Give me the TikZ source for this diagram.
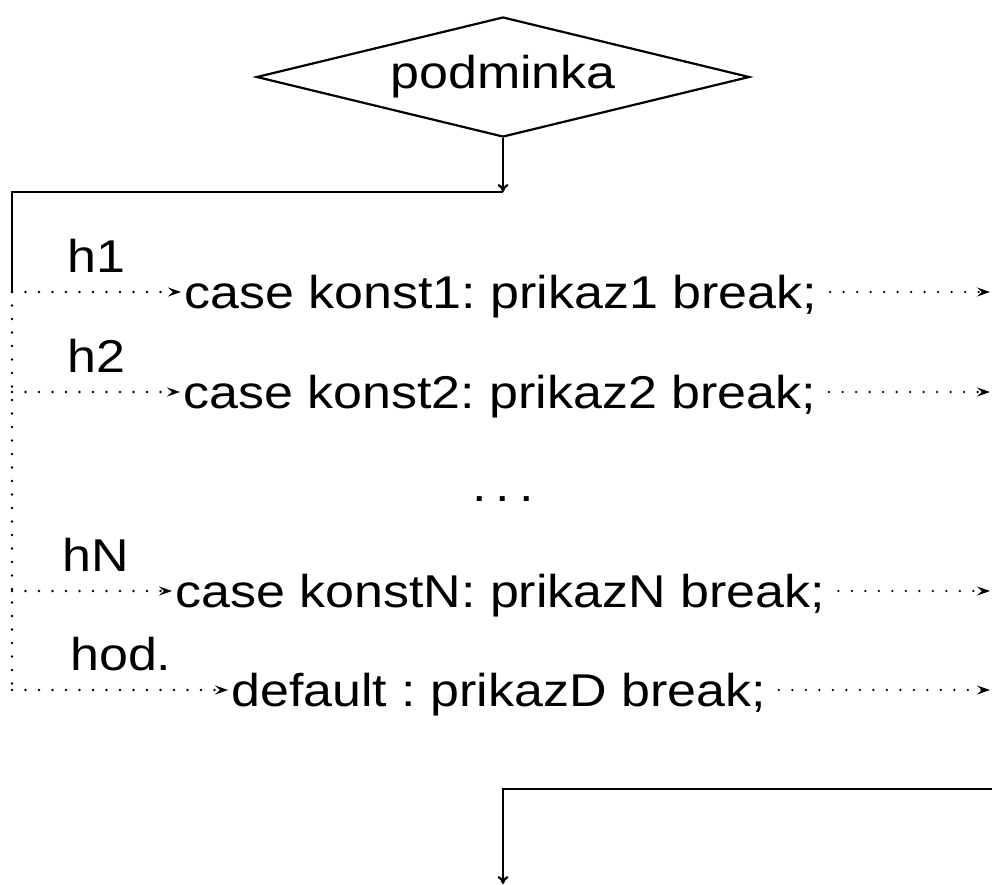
\documentclass[tikz,border=0pt]{standalone}
\usepackage{fontspec}
\setmainfont{Liberation Sans}[FakeStretch=1.13]
\frenchspacing
\usetikzlibrary{shapes.geometric, arrows.meta, calc}
\tikzset{
    solidline/.style={line width=2.2pt},
    dotline/.style={line width=2.6pt, dash pattern=on 0pt off 13.5pt, line cap=round},
    dotarrow/.style={dotline, -{Stealth[length=13pt, width=9pt, inset=5pt]}},
    downarrow/.style={solidline, -{To[length=8pt, width=11pt]}},
    casetext/.style={anchor=west, inner xsep=3pt, text height=42pt, text depth=10pt},
    lab/.style={anchor=base west, inner sep=0pt}
}
\newcommand{\caserow}[6]{
    \coordinate (#1l) at (12, #2);
    \coordinate (#1r) at (990, #2);
    \node[lab] (#1h) at (#3, #2-20) {#4};
    \node[casetext] (#1) at (#5, #2) {#6};
    \draw[dotarrow] (#1l) -- (#1);
    \draw[dotarrow, shorten <=10pt] (#1) -- (#1r);
}

\begin{document}
\begin{tikzpicture}[x=1pt, y=-1pt, font=\fontsize{46pt}{55pt}\selectfont]
        \useasboundingbox (0, 0) rectangle (992, 884);
        \node[draw, diamond, aspect=4.1, solidline, inner sep=0pt, minimum width=493pt, minimum height=120pt] (cond) at (503, 77) {podminka};
        \coordinate (split) at (503, 192);
        \coordinate (corner) at (12, 192);
        \draw[downarrow] (cond.south) -- (split);
        \caserow{case1}{292}{67}{h1}{181}{case konst1: prikaz1 break;}
        \caserow{case2}{392}{67}{h2}{180}{case konst2: prikaz2 break;}
        \caserow{caseN}{591}{62}{hN}{172}{case konstN: prikazN break;}
        \caserow{caseD}{690}{70}{hod.}{228}{default : prikazD break;}
        \draw[solidline] (split) -- (corner) -- (case1l);
        \draw[dotline] (case1l) -- (caseDl);
        \node (dots) at (503, 499) {.\hspace{0.2em}.\hspace{0.2em}.};
        \coordinate (join) at (992, 789);
        \coordinate (bend) at (503, 789);
        \coordinate (exit) at (503, 884);
        \draw[downarrow] (join) -- (bend) -- (exit);
    \end{tikzpicture}
\end{document}
